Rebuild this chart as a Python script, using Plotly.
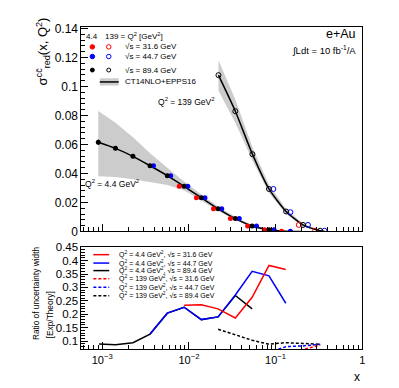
import plotly.graph_objects as go

W, H = 399, 388

# ---- top panel data: sigma_red^cc(x, Q2) ----
# Q2 = 4.4 GeV2 pseudo-data (filled markers)
x44_896 = [9.0e-4, 1.42e-3, 2.26e-3, 3.56e-3, 5.63e-3, 8.8e-3, 0.0139, 0.0217, 0.0343, 0.0536, 0.0838]
y44_896 = [0.0615, 0.0573, 0.0518, 0.0453, 0.0385, 0.0311, 0.0233, 0.0156, 0.0089, 0.0038, 0.0012]
e44_896 = [0.0018, 0.0013, 0.0008, 0.0006, 0.0005, 0.0005, 0.0004, 0.0004, 0.0003, 0.0002, 0.0002]
x44_447 = [3.90e-3, 6.15e-3, 9.7e-3, 0.0153, 0.0239, 0.0381, 0.0602, 0.0957, 0.148]
y44_447 = [0.0453, 0.0385, 0.0311, 0.0233, 0.0156, 0.0089, 0.0038, 0.0011, 0.0001]
x44_316 = [7.73e-3, 0.0122, 0.0192, 0.0301, 0.0475, 0.0748, 0.117]
y44_316 = [0.0311, 0.0233, 0.0156, 0.0089, 0.0038, 0.0011, 0.0001]

# Q2 = 139 GeV2 pseudo-data (open markers)
x139_896 = [0.0219, 0.0343, 0.054, 0.0838, 0.132, 0.207, 0.326]
y139_896 = [0.1078, 0.0829, 0.0533, 0.0293, 0.0138, 0.0045, 0.0005]
x139_447 = [0.0942, 0.148, 0.236, 0.366]
y139_447 = [0.0293, 0.0133, 0.0045, 0.0005]
x139_316 = [0.185, 0.286]
y139_316 = [0.0045, 0.0005]

# CT14NLO+EPPS16 central curves and uncertainty bands
xc44 = [9.0e-4, 1.42e-3, 2.26e-3, 3.56e-3, 5.63e-3, 8.8e-3, 0.0139, 0.0217, 0.0343, 0.0536, 0.0838, 0.131, 0.2]
yc44 = [0.0615, 0.0573, 0.0518, 0.0453, 0.0385, 0.0311, 0.0233, 0.0156, 0.0089, 0.0038, 0.0012, 0.0002, 0.0]
up44 = [0.083, 0.075, 0.065, 0.054, 0.044, 0.0345, 0.0255, 0.0172, 0.0100, 0.0045, 0.0018, 0.0005, 0.0]
lo44 = [0.038, 0.0375, 0.036, 0.034, 0.032, 0.0285, 0.0215, 0.0143, 0.0078, 0.0030, 0.0005, 0.0, 0.0]

xc139 = [0.0219, 0.0343, 0.054, 0.0838, 0.132, 0.207, 0.326, 0.37]
yc139 = [0.1078, 0.0829, 0.0533, 0.0293, 0.0138, 0.0045, 0.0005, 0.0]
up139 = [0.118, 0.091, 0.058, 0.032, 0.0155, 0.0055, 0.001, 0.0]
lo139 = [0.097, 0.075, 0.049, 0.0265, 0.012, 0.0035, 0.0, 0.0]

# ---- bottom panel data: ratio of uncertainty width ----
xr = [9.2e-4, 1.42e-3, 2.26e-3, 3.56e-3, 5.63e-3, 8.8e-3, 0.0139, 0.0217, 0.0343, 0.0536, 0.0838, 0.131, 0.207, 0.327]
r44_896 = [0.089, 0.086, 0.094, 0.126, 0.204, 0.226, 0.18, 0.19, 0.27, 0.22]
r44_447 = [None] * 3 + [0.126, 0.204, 0.226, 0.18, 0.19, 0.272, 0.36, 0.343, 0.241]
r44_316 = [None] * 5 + [0.234, 0.235, 0.22, 0.186, 0.263, 0.382, 0.367]
r139_896 = [None] * 7 + [0.144, 0.124, 0.103, 0.088, 0.094, 0.091, 0.088]
r139_447 = [None] * 10 + [0.057, 0.079, 0.082, 0.088]
r139_316 = [None] * 11 + [0.05, 0.069, 0.085]

RED, BLUE, BLK = "#ff0000", "#0000ff", "#000000"
BAND = "#cccccc"
FONT = "Liberation Sans"


def px(v):
    return v / W


def py(v):
    return 1 - v / H


fig = go.Figure()

# bands
for xs, up, lo in [(xc44, up44, lo44), (xc139, up139, lo139)]:
    fig.add_trace(go.Scatter(x=xs + xs[::-1], y=up + lo[::-1], fill="toself", fillcolor=BAND,
                             line=dict(width=0), mode="lines", hoverinfo="skip", xaxis="x", yaxis="y"))
# central curves
for xs, ys in [(xc44, yc44), (xc139, yc139)]:
    fig.add_trace(go.Scatter(x=xs, y=ys, mode="lines", line=dict(color=BLK, width=1.5, shape="spline", smoothing=0.6),
                             xaxis="x", yaxis="y"))

# filled points Q2 = 4.4
fig.add_trace(go.Scatter(x=x44_316, y=y44_316, mode="markers", marker=dict(color=RED, size=5), xaxis="x", yaxis="y"))
fig.add_trace(go.Scatter(x=x44_447, y=y44_447, mode="markers", marker=dict(color=BLUE, size=5), xaxis="x", yaxis="y"))
fig.add_trace(go.Scatter(x=x44_896, y=y44_896, mode="markers", marker=dict(color=BLK, size=5),
                         error_y=dict(type="data", array=e44_896, color=BLK, thickness=1, width=0),
                         xaxis="x", yaxis="y"))
# open points Q2 = 139
for xs, ys, c in [(x139_316, y139_316, RED), (x139_447, y139_447, BLUE), (x139_896, y139_896, BLK)]:
    fig.add_trace(go.Scatter(x=xs, y=ys, mode="markers",
                             marker=dict(symbol="circle-open", color=c, size=5, line=dict(width=1)),
                             xaxis="x", yaxis="y"))

# ratio lines
for ys, c, d in [(r44_896, BLK, "solid"), (r44_447, BLUE, "solid"), (r44_316, RED, "solid"),
                 (r139_896, BLK, "3px,2px"), (r139_447, BLUE, "3px,2px"), (r139_316, RED, "3px,2px")]:
    fig.add_trace(go.Scatter(x=xr[:len(ys)], y=ys, mode="lines", line=dict(color=c, width=1.5, dash=d),
                             xaxis="x2", yaxis="y2"))

# axes
minor_x = [m * 10 ** k for k in range(-4, 0) for m in range(2, 10) if m * 10 ** k > 5.7e-4]
xcommon = dict(type="log", range=[-3.24, 0], domain=[px(74), px(357)], showline=True, mirror=True,
               linecolor=BLK, linewidth=1, ticks="inside", ticklen=7, tickcolor=BLK,
               tickvals=[1e-3, 1e-2, 1e-1, 1], showgrid=False, zeroline=False,
               minor=dict(tickvals=minor_x, ticks="inside", ticklen=4, tickcolor=BLK, showgrid=False))
ycommon = dict(showline=True, mirror=True, linecolor=BLK, linewidth=1, ticks="inside", ticklen=7,
               tickcolor=BLK, showgrid=False, zeroline=False)

fig.update_layout(
    width=W, height=H, margin=dict(l=0, r=0, t=0, b=0),
    paper_bgcolor="white", plot_bgcolor="white", showlegend=False,
    font=dict(family=FONT, color=BLK),
    xaxis=dict(xcommon, anchor="y", showticklabels=False),
    xaxis2=dict(xcommon, anchor="y2", matches="x",
                ticktext=["10<sup>−3</sup>", "10<sup>−2</sup>", "10<sup>−1</sup>", "1"],
                tickfont=dict(size=11)),
    yaxis=dict(ycommon, anchor="x", domain=[py(225), py(13)], range=[0, 0.1413], dtick=0.02,
               tickfont=dict(size=12), minor=dict(dtick=0.004, ticks="inside", ticklen=4, tickcolor=BLK)),
    yaxis2=dict(ycommon, anchor="x2", domain=[py(347), py(241)], range=[0.069, 0.451], tick0=0.1,
                dtick=0.05, tickfont=dict(size=11.5),
                minor=dict(dtick=0.01, tick0=0.1, ticks="inside", ticklen=4, tickcolor=BLK)),
)

ann = []
shapes = []


def text(x, y, s, size, xanchor="left", angle=0):
    ann.append(dict(x=px(x), y=py(y), xref="paper", yref="paper", text=s, showarrow=False,
                    xanchor=xanchor, yanchor="middle", textangle=angle, font=dict(size=size, family=FONT)))


# titles
text(35, 39, "σ<sup>cc̄</sup><sub>red</sub>(x, Q<sup>2</sup>)", 13, "center", -90)
text(29, 289, "Ratio of uncertainty width", 8.3, "center", -90)
text(42, 311, "[Exp/Theory]", 8.3, "center", -90)
text(352, 376, "x", 12, "center")
text(353, 21, "e+Au", 12.5, "right")
text(353, 37, "∫Ldt = 10 fb<sup>-1</sup>/A", 9.5, "right")
text(180, 91, "Q<sup>2</sup> = 139 GeV<sup>2</sup>", 8.5, "center")
text(105, 175, "Q<sup>2</sup> = 4.4 GeV<sup>2</sup>", 8.5, "center")

# top legend
text(77, 23, "4.4", 8)
text(96, 23, "139 = Q<sup>2</sup> [GeV<sup>2</sup>]", 8)
for yy, c, lab in [(34, RED, "√s = 31.6 GeV"), (44, BLUE, "√s = 44.7 GeV"), (58, BLK, "√s = 89.4 GeV")]:
    r = 2.3 if c != BLK else 2.0
    shapes.append(dict(type="circle", xref="paper", yref="paper", x0=px(85 - r), x1=px(85 + r),
                       y0=py(yy + r), y1=py(yy - r), fillcolor=c, line=dict(color=c, width=1)))
    shapes.append(dict(type="circle", xref="paper", yref="paper", x0=px(101.5 - r), x1=px(101.5 + r),
                       y0=py(yy + r), y1=py(yy - r), line=dict(color=c, width=1)))
    text(116, yy, lab, 8)
shapes.append(dict(type="rect", xref="paper", yref="paper", x0=px(92.5), x1=px(111.5), y0=py(74), y1=py(66.5),
                   fillcolor=BAND, line=dict(width=0)))
shapes.append(dict(type="line", xref="paper", yref="paper", x0=px(92.5), x1=px(111.5), y0=py(70.3), y1=py(70.3),
                   line=dict(color=BLK, width=1.5)))
text(116, 70, "CT14NLO+EPPS16", 8)

# bottom legend
for yy, c, d, lab in [(249, RED, "solid", "Q<sup>2</sup> = 4.4 GeV<sup>2</sup>, √s = 31.6 GeV"),
                      (257.7, BLUE, "solid", "Q<sup>2</sup> = 4.4 GeV<sup>2</sup>, √s = 44.7 GeV"),
                      (265.5, BLK, "solid", "Q<sup>2</sup> = 4.4 GeV<sup>2</sup>, √s = 89.4 GeV"),
                      (274, RED, "3px,2px", "Q<sup>2</sup> = 139 GeV<sup>2</sup>, √s = 31.6 GeV"),
                      (282.7, BLUE, "3px,2px", "Q<sup>2</sup> = 139 GeV<sup>2</sup>, √s = 44.7 GeV"),
                      (291.5, BLK, "3px,2px", "Q<sup>2</sup> = 139 GeV<sup>2</sup>, √s = 89.4 GeV")]:
    shapes.append(dict(type="line", xref="paper", yref="paper", x0=px(86), x1=px(102), y0=py(yy), y1=py(yy),
                       line=dict(color=c, width=1.5, dash=d)))
    text(110, yy, lab, 7)

fig.update_layout(annotations=ann, shapes=shapes)
fig.write_html("out.html")
